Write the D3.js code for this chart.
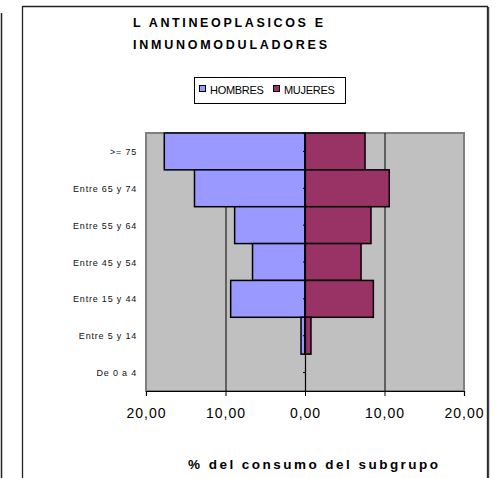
<!DOCTYPE html>
<html><head><meta charset="utf-8">
<script src="https://cdn.jsdelivr.net/npm/d3@7"></script>
<style>body{margin:0;background:#fff}svg{display:block;font-family:"Liberation Sans",Arial,sans-serif}</style>
</head><body>
<svg id="c" width="501" height="478"></svg>
<script>
const categories = [">= 75","Entre 65 y 74","Entre 55 y 64","Entre 45 y 54","Entre 15 y 44","Entre 5 y 14","De 0 a 4"];
const hombres = [17.7, 13.9, 8.85, 6.6, 9.35, 0.5, 0];
const mujeres = [7.55, 10.6, 8.3, 7.05, 8.6, 0.75, 0];
const seriesNames = ["HOMBRES","MUJERES"];
const xTicks = [-20,-10,0,10,20];
const titleLines = ["L ANTINEOPLASICOS E","INMUNOMODULADORES"];
const xTitle = "% del consumo del subgrupo";

const svg = d3.select("#c");
const colH = "#9999FF", colM = "#993366";

// neighbouring chart edge & frame
svg.append("line").attr("x1",1.5).attr("x2",1.5).attr("y1",13).attr("y2",478).attr("stroke","#222").attr("stroke-width",1.5);
svg.append("path").attr("d","M22.5,478V6.5H487.5V478").attr("fill","none").attr("stroke","#222").attr("stroke-width",1.3);
svg.append("line").attr("x1",488.5).attr("x2",488.5).attr("y1",7).attr("y2",478).attr("stroke","#444").attr("stroke-width",1.5);

const x = d3.scaleLinear().domain([-20,20]).range([146,464]);
const y = d3.scaleBand().domain(categories).range([133,391]).padding(0);

// plot area
svg.append("rect").attr("x",x(-20)).attr("y",133).attr("width",x(20)-x(-20)).attr("height",258)
  .attr("fill","#C0C0C0").attr("stroke","#808080").attr("stroke-width",2);

// gridlines
svg.selectAll(".grid").data(xTicks.filter(d=>d!==0 && Math.abs(d)!==20)).enter().append("line")
  .attr("x1",d=>x(d)+0.5).attr("x2",d=>x(d)+0.5).attr("y1",133).attr("y2",391).attr("stroke","#000").attr("stroke-width",1);

const rows = categories.map((c,i)=>({c,h:hombres[i],m:mujeres[i]}));
svg.selectAll(".bh").data(rows).enter().append("rect")
  .attr("x",d=>x(-d.h)).attr("y",d=>y(d.c)).attr("width",d=>x(0)-x(-d.h)).attr("height",y.bandwidth())
  .attr("fill",colH).attr("stroke","#000").attr("stroke-width",1.5);
svg.selectAll(".bm").data(rows).enter().append("rect")
  .attr("x",x(0)).attr("y",d=>y(d.c)).attr("width",d=>x(d.m)-x(0)).attr("height",y.bandwidth())
  .attr("fill",colM).attr("stroke","#000").attr("stroke-width",1.5);

// category axis at zero
const ya = svg.append("g").attr("transform",`translate(${x(0)},0)`)
  .call(d3.axisLeft(y).tickSize(2).tickFormat(""));
ya.select(".domain").attr("stroke","#000").attr("stroke-width",1.2);
ya.selectAll(".tick line").attr("stroke","#000");

// category labels
svg.selectAll(".yl").data(categories).enter().append("text")
  .attr("x",137).attr("y",d=>y(d)+y.bandwidth()/2+3.5)
  .attr("text-anchor","end").attr("font-size","9px").attr("letter-spacing","0.8px").attr("fill","#111").text(d=>d);

// x axis
const xa = svg.append("g").attr("transform","translate(0,391)")
  .call(d3.axisBottom(x).tickValues(xTicks).tickSize(5).tickFormat(d=>Math.abs(d).toFixed(2).replace(".",",")));
xa.select(".domain").attr("stroke","#000").attr("stroke-width",1.2);
xa.selectAll(".tick line").attr("stroke","#000");
xa.selectAll(".tick text").attr("font-size","14px").attr("letter-spacing","1px").attr("fill","#000")
  .attr("font-family","Liberation Sans, Arial, sans-serif").attr("dy","0").attr("y",27);

// title
svg.selectAll(".tt").data(titleLines).enter().append("text")
  .attr("x",d=>d===titleLines[0]?228:230).attr("y",(d,i)=>27+i*21.5).attr("text-anchor","middle")
  .attr("font-weight","bold").attr("font-size","12.5px")
  .attr("textLength",(d,i)=>i===0?190:194).attr("lengthAdjust","spacing").text(d=>d);

// x title
svg.append("text").attr("x",313).attr("y",469).attr("text-anchor","middle")
  .attr("font-weight","bold").attr("font-size","13.5px").attr("textLength",250).attr("lengthAdjust","spacing").text(xTitle);

// legend
const lg = svg.append("g");
lg.append("rect").attr("x",194.5).attr("y",77.5).attr("width",151).attr("height",26).attr("fill","#fff").attr("stroke","#000").attr("stroke-width",1);
const lx = [199, 273];
seriesNames.forEach((n,i)=>{
  lg.append("rect").attr("x",lx[i]+0.5).attr("y",85.5).attr("width",6).attr("height",6).attr("fill",[colH,colM][i]).attr("stroke","#000").attr("stroke-width",1);
  lg.append("text").attr("x",lx[i]+11).attr("y",94).attr("font-size","11px").attr("letter-spacing","-0.3px").text(n);
});
</script>
</body></html>
